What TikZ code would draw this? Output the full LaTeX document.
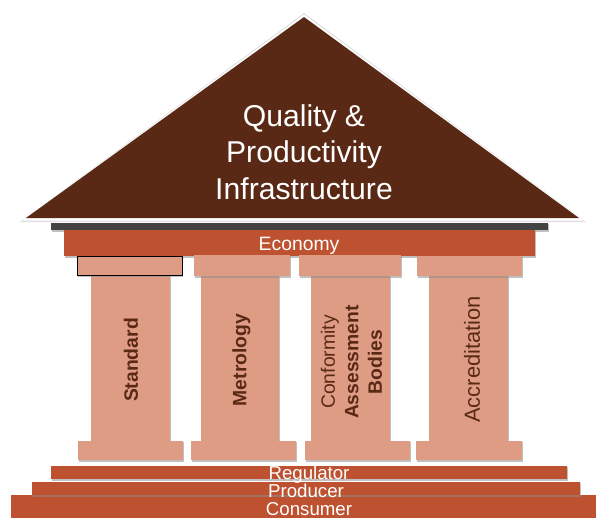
\documentclass[tikz,border=0pt]{standalone}
\usepackage{fontspec}
\setmainfont{Liberation Sans}
\definecolor{roofc}{HTML}{5A2915}
\definecolor{orangec}{HTML}{BE5230}
\definecolor{pinkc}{HTML}{DF9C85}
\definecolor{barc}{HTML}{434343}
\definecolor{inkc}{HTML}{5A2915}
\tikzset{
  px/.style={x=0.75pt,y=-0.75pt},
  softedge/.style={fill=black!45,draw=none,opacity=.55},
  orangeblock/.style={fill=orangec,draw=none},
  pinkblock/.style={fill=pinkc,draw=none},
  pillartext/.style={rotate=90,text=inkc,align=center,font=\fontsize{14.5}{17.6}\selectfont,inner sep=0pt},
  whitetext/.style={text=white,inner sep=0pt,align=center},
}
\newcommand{\slab}[5]{% x1,y1,x2,y2,style
  \fill[softedge] (#1+1,#2+1) rectangle (#3+1,#4+1.5);
  \fill[#5] (#1,#2) rectangle (#3,#4);
}
\begin{document}
\begin{tikzpicture}[px]
\useasboundingbox (0,0) rectangle (596,518);
% roof
\coordinate (apex) at (304,17);
\coordinate (rl) at (26,218);
\coordinate (rr) at (579,218);
\fill[black!12] (304,13) -- (586,222) -- (20,222) -- cycle;
\fill[white] (304,14.5) -- (583.5,220.5) -- (22.5,220.5) -- cycle;
\fill[roofc] (apex) -- (rr) -- (rl) -- cycle;
% lintel
\slab{51}{223}{548}{230}{fill=barc}
\slab{64}{230}{535}{256}{orangeblock}
% columns
\slab{91}{276}{170}{441}{pinkblock}
\slab{201}{276}{279}{441}{pinkblock}
\slab{311}{276}{390}{441}{pinkblock}
\slab{429}{276}{508}{441}{pinkblock}
% capitals
\fill[softedge] (78,257) rectangle (183,277);
\draw[fill=pinkc,draw=black,line width=.7pt] (77,256) rectangle (182,275);
\slab{194}{255}{290}{276}{pinkblock}
\slab{299}{255}{401}{276}{pinkblock}
\slab{417}{256}{522}{276}{pinkblock}
% bases
\slab{78}{441}{183}{460}{pinkblock}
\slab{191}{441}{296}{460}{pinkblock}
\slab{305}{441}{410}{460}{pinkblock}
\slab{416}{441}{522}{460}{pinkblock}
% steps
\fill[orangeblock] (11,495) rectangle (596,518);
\slab{32}{482}{580}{495}{orangeblock}
\slab{51}{466}{567}{479}{orangeblock}
% labels
\node[whitetext,font=\fontsize{22.6}{27.2}\selectfont] (title) at (304,152) {Quality \&\\Productivity\\Infrastructure};
\node[whitetext,font=\fontsize{14.5}{16}\selectfont] (economy) at (299,245.5) {Economy};
\node[pillartext,font=\fontsize{14.5}{16}\selectfont\bfseries] (standard) at (131,360) {Standard};
\node[pillartext,font=\fontsize{14.5}{16}\selectfont\bfseries] (metrology) at (241.5,360) {Metrology};
\node[pillartext] (cab) at (351.5,362) {Conformity\\{\bfseries Assessment}\\{\bfseries Bodies}};
\node[pillartext,font=\fontsize{16.4}{18}\selectfont] (accreditation) at (472,359.5) {Accreditation};
\node[whitetext,font=\fontsize{14}{16}\selectfont] (regulator) at (309,474.5) {Regulator};
\node[whitetext,font=\fontsize{14}{16}\selectfont] (producer) at (306,490.5) {Producer};
\node[whitetext,font=\fontsize{14}{16}\selectfont] (consumer) at (309,509) {Consumer};
\end{tikzpicture}
\end{document}
